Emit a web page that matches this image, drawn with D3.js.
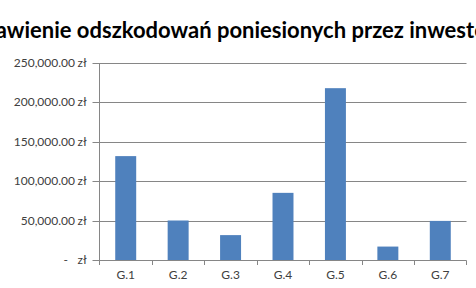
<!DOCTYPE html>
<html>
<head>
<meta charset="utf-8">
<script src="https://cdn.jsdelivr.net/npm/d3@7"></script>
<style>
  body { margin: 0; background: #fff; }
  svg { display: block; }
  text { font-family: Lato, "Open Sans", sans-serif; }
</style>
</head>
<body>
<div id="chart"></div>
<script>
const categories = ['G.1', 'G.2', 'G.3', 'G.4', 'G.5', 'G.6', 'G.7'];
const values = [131500, 50000, 31500, 85000, 217500, 17000, 49500];
const yTicks = [0, 50000, 100000, 150000, 200000, 250000];
const title = 'Zestawienie odszkodowań poniesionych przez inwestorów';

const w = 476, h = 288;
const margin = {top: 62.5, right: 9.5, bottom: 28, left: 99.5};

const svg = d3.select('#chart')
	.append('svg')
	.attr('width', w)
	.attr('height', h);

const x = d3.scaleBand()
	.domain(categories)
	.range([margin.left, w - margin.right])
	.paddingInner(0.6)
	.paddingOuter(0.3);

const y = d3.scaleLinear()
	.domain([0, 250000])
	.range([h - margin.bottom, margin.top]);

const fmt = (v) => v === 0 ? '-' : d3.format(',.2f')(v);

// gridlines
svg.append('g')
	.selectAll('line')
	.data(yTicks)
	.enter()
	.append('line')
	.attr('x1', margin.left - 7)
	.attr('x2', w - margin.right)
	.attr('y1', (d) => Math.round(y(d)) + 0.5)
	.attr('y2', (d) => Math.round(y(d)) + 0.5)
	.attr('stroke', '#868686')
	.attr('stroke-width', 1);

// y axis line
svg.append('line')
	.attr('x1', margin.left)
	.attr('x2', margin.left)
	.attr('y1', Math.round(y(250000)) + 0.5)
	.attr('y2', Math.round(y(0)) + 5)
	.attr('stroke', '#868686');

// bars
svg.append('g')
	.selectAll('rect')
	.data(values)
	.enter()
	.append('rect')
	.attr('x', (d, i) => x(categories[i]))
	.attr('width', x.bandwidth())
	.attr('y', (d) => y(d))
	.attr('height', (d) => y(0) - y(d))
	.attr('fill', '#4f81bd');

// category ticks
const step = x.step();
svg.append('g')
	.selectAll('line')
	.data(categories)
	.enter()
	.append('line')
	.attr('x1', (d) => Math.round(x(d) + x.bandwidth() / 2 + step / 2) + 0.5)
	.attr('x2', (d) => Math.round(x(d) + x.bandwidth() / 2 + step / 2) + 0.5)
	.attr('y1', Math.round(y(0)) + 0.5)
	.attr('y2', Math.round(y(0)) + 5)
	.attr('stroke', '#868686');

// y labels
const yl = svg.append('g')
	.selectAll('g')
	.data(yTicks)
	.enter()
	.append('g')
	.attr('transform', (d) => 'translate(0,' + (y(d) + 4) + ')');

yl.append('text')
	.attr('x', (d) => d === 0 ? 68 : 75)
	.attr('text-anchor', 'end')
	.attr('font-size', '12px')
	.attr('fill', '#404040')
	.text(fmt);

yl.append('text')
	.attr('x', 77.5)
	.attr('font-size', '12px')
	.attr('fill', '#404040')
	.text('zł');

// x labels
svg.append('g')
	.selectAll('text')
	.data(categories)
	.enter()
	.append('text')
	.attr('x', (d) => x(d) + x.bandwidth() / 2)
	.attr('y', y(0) + 19)
	.attr('text-anchor', 'middle')
	.attr('font-size', '12px')
	.attr('fill', '#404040')
	.text((d) => d);

// title
svg.append('text')
	.attr('x', w / 2 + 1)
	.attr('y', 37.5)
	.attr('text-anchor', 'middle')
	.attr('font-size', '22px')
	.attr('font-weight', 'bold')
	.attr('fill', '#000')
	.text(title);
</script>
</body>
</html>
